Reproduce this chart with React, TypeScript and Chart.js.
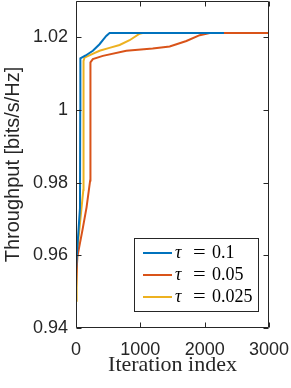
import React, { useEffect, useRef } from 'react';
import { Chart, registerables } from 'chart.js';

Chart.register(...registerables);

const xTicks = [0, 1000, 2000, 3000];
const yTicks = [0.94, 0.96, 0.98, 1, 1.02];
const xTitle = 'Iteration index';
const yTitle = 'Throughput [bits/s/Hz]';
const seriesLabels = ['τ = 0.1', 'τ = 0.05', 'τ = 0.025'];
const seriesColors = ['#0072BD', '#D95319', '#EDB120'];

const blueIter = [0, 20, 62, 66, 68, 150, 262, 366, 420, 470, 522, 2300];
const blueVal = [0.956, 0.962, 0.973, 1.0, 1.0142, 1.015, 1.0163, 1.0181, 1.0193, 1.0204, 1.0212, 1.0212];

const orangeIter = [0, 20, 101, 164, 220, 223, 226, 262, 417, 782, 1192, 1456, 1716, 1923, 2079, 3000];
const orangeVal = [0.951, 0.9595, 0.967, 0.9732, 0.9806, 1.0, 1.0131, 1.014, 1.0149, 1.0163, 1.0169, 1.0175, 1.019, 1.0206, 1.0212, 1.0212];

const yellowIter = [0, 10, 23, 114, 116, 118, 132, 250, 366, 520, 678, 833, 989, 1036, 3000];
const yellowVal = [0.9475, 0.955, 0.962, 0.978, 1.0, 1.0135, 1.0144, 1.0154, 1.0163, 1.0171, 1.0179, 1.0192, 1.021, 1.0212, 1.0212];

const seriesIter = [blueIter, orangeIter, yellowIter];
const seriesVal = [blueVal, orangeVal, yellowVal];

const AXIS = '#262626';

const boxPlugin = {
  id: 'matlabBox',
  afterDatasetsDraw(chart: any) {
    const { ctx, chartArea: a, scales } = chart;
    const L = Math.round(a.left) + 0.5;
    const R = Math.round(a.right) - 0.5;
    const T = Math.round(a.top) + 0.5;
    const B = Math.round(a.bottom) - 0.5;
    ctx.save();
    ctx.strokeStyle = AXIS;
    ctx.lineWidth = 1;
    ctx.beginPath();
    ctx.rect(L, T, R - L, B - T);
    const tl = 5;
    scales.x.ticks.forEach((t: any) => {
      const px = Math.round(scales.x.getPixelForValue(t.value)) + 0.5;
      ctx.moveTo(px, B);
      ctx.lineTo(px, B - tl);
      ctx.moveTo(px, T);
      ctx.lineTo(px, T + tl);
    });
    scales.y.ticks.forEach((t: any) => {
      const py = Math.round(scales.y.getPixelForValue(t.value)) + 0.5;
      ctx.moveTo(L, py);
      ctx.lineTo(L + tl, py);
      ctx.moveTo(R, py);
      ctx.lineTo(R - tl, py);
    });
    ctx.stroke();
    ctx.restore();
  },
};

const legendPlugin = {
  id: 'matlabLegend',
  afterDraw(chart: any) {
    const { ctx, chartArea: a } = chart;
    const w = 124;
    const h = 73;
    const x0 = Math.round(a.right) - 11 - w;
    const y0 = Math.round(a.bottom) - 17 - h;
    ctx.save();
    ctx.fillStyle = '#ffffff';
    ctx.fillRect(x0, y0, w, h);
    ctx.strokeStyle = AXIS;
    ctx.lineWidth = 1;
    ctx.strokeRect(x0 + 0.5, y0 + 0.5, w, h);
    chart.data.datasets.forEach((ds: any, i: number) => {
      const cy = y0 + 15 + i * 22;
      ctx.strokeStyle = ds.borderColor;
      ctx.lineWidth = 2;
      ctx.beginPath();
      ctx.moveTo(x0 + 9, cy);
      ctx.lineTo(x0 + 38, cy);
      ctx.stroke();
      const [sym, eq, val] = String(ds.label).split(' ');
      ctx.fillStyle = '#000000';
      ctx.textBaseline = 'middle';
      ctx.textAlign = 'left';
      ctx.font = 'italic 18px "Liberation Serif"';
      ctx.fillText(sym, x0 + 41, cy);
      ctx.font = '18px "Liberation Serif"';
      ctx.save();
      ctx.scale(1.25, 1);
      ctx.fillText(eq, (x0 + 59) / 1.25, cy);
      ctx.restore();
      ctx.fillText(val, x0 + 78, cy);
    });
    ctx.restore();
  },
};

export default function App() {
  const ref = useRef<HTMLCanvasElement | null>(null);

  useEffect(() => {
    if (!ref.current) return;
    const datasets = seriesLabels.map((label, i) => ({
      label,
      data: seriesIter[i].map((x, j) => ({ x, y: seriesVal[i][j] })),
      borderColor: seriesColors[i],
      backgroundColor: seriesColors[i],
      borderWidth: 2,
      pointRadius: 0,
      showLine: true,
      tension: 0,
      fill: false,
    }));
    const tickFont = { family: '"Liberation Sans", Arial, sans-serif', size: 18 };
    const noPad = (s: any) => {
      s.paddingTop = 0;
      s.paddingBottom = 0;
      s.paddingLeft = 0;
      s.paddingRight = 0;
    };
    const chart = new Chart(ref.current, {
      type: 'scatter',
      data: { datasets },
      options: {
        animation: false,
        responsive: false,
        devicePixelRatio: 1,
        layout: { padding: { top: 1, right: 22, left: 0, bottom: 0 } },
        plugins: { legend: { display: false }, tooltip: { enabled: false } },
        scales: {
          x: {
            type: 'linear',
            min: 0,
            max: 3000,
            afterBuildTicks: (s: any) => {
              s.ticks = xTicks.map((v) => ({ value: v }));
            },
            afterFit: (s: any) => {
              s.height = 60;
              noPad(s);
            },
            grid: { display: false, drawTicks: false },
            border: { display: false },
            ticks: {
              font: tickFont,
              color: AXIS,
              padding: 11,
              maxRotation: 0,
              autoSkip: false,
              callback: (v: any) => String(v),
            },
            title: {
              display: true,
              text: xTitle,
              color: AXIS,
              font: { family: '"Liberation Serif", serif', size: 22 },
              padding: { top: 0, bottom: 10 },
            },
          },
          y: {
            type: 'linear',
            min: 0.94,
            max: 1.03,
            afterBuildTicks: (s: any) => {
              s.ticks = yTicks.map((v) => ({ value: v }));
            },
            afterFit: (s: any) => {
              s.width = 76;
              noPad(s);
            },
            grid: { display: false, drawTicks: false },
            border: { display: false },
            ticks: {
              font: tickFont,
              color: AXIS,
              padding: 8,
              autoSkip: false,
              callback: (v: any) => String(parseFloat(Number(v).toFixed(2))),
            },
            title: {
              display: true,
              text: yTitle,
              color: AXIS,
              font: { family: '"Liberation Sans", Arial, sans-serif', size: 20 },
              padding: { top: 1, bottom: 0 },
            },
          },
        },
      },
      plugins: [boxPlugin, legendPlugin],
    } as any);
    return () => chart.destroy();
  }, []);

  return (
    <div style={{ position: 'absolute', left: 0, top: 0, width: 291, height: 388, background: '#fff' }}>
      <canvas ref={ref} width={291} height={388} style={{ display: 'block' }} />
    </div>
  );
}
